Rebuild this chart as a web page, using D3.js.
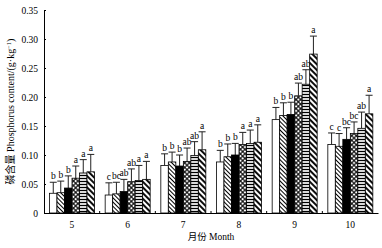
<!DOCTYPE html>
<html>
<head>
<meta charset="utf-8">
<script src="https://cdn.jsdelivr.net/npm/d3@7"></script>
<style>
  body { margin: 0; background: #fff; }
  text { font-family: "Liberation Serif", "Times New Roman", serif; fill: #000; }
</style>
</head>
<body>
<div id="chart"></div>
<script>
// months on the x axis
var months = ["5", "6", "7", "8", "9", "10"];
// six treatments per month (g/kg)
var s1 = [0.034, 0.031, 0.082, 0.088, 0.161, 0.118];
var s2 = [0.035, 0.033, 0.088, 0.097, 0.168, 0.115];
var s3 = [0.043, 0.037, 0.081, 0.100, 0.170, 0.127];
var s4 = [0.060, 0.054, 0.089, 0.118, 0.202, 0.137];
var s5 = [0.069, 0.056, 0.099, 0.120, 0.222, 0.146];
var s6 = [0.071, 0.058, 0.109, 0.122, 0.274, 0.171];
// error bar tops
var e1 = [0.053, 0.052, 0.102, 0.108, 0.182, 0.138];
var e2 = [0.055, 0.053, 0.105, 0.119, 0.190, 0.137];
var e3 = [0.064, 0.058, 0.100, 0.120, 0.191, 0.147];
var e4 = [0.081, 0.076, 0.112, 0.139, 0.224, 0.157];
var e5 = [0.092, 0.082, 0.123, 0.143, 0.247, 0.174];
var e6 = [0.101, 0.089, 0.140, 0.152, 0.305, 0.203];
// significance letters
var l1 = ["b", "c",  "b",  "b", "b",  "c"];
var l2 = ["b", "bc", "b",  "b", "b",  "c"];
var l3 = ["b", "ab", "b",  "b", "b",  "bc"];
var l4 = ["a", "ab", "ab", "a", "ab", "bc"];
var l5 = ["a", "a",  "ab", "a", "ab", "ab"];
var l6 = ["a", "a",  "a",  "a", "a",  "a"];
var yTicks = [0, 0.05, 0.10, 0.15, 0.20, 0.25, 0.30, 0.35];

var series = [s1, s2, s3, s4, s5, s6];
var errs = [e1, e2, e3, e4, e5, e6];
var letters = [l1, l2, l3, l4, l5, l6];
var fills = ["#fff", "url(#diagThin)", "#000", "url(#cross)", "url(#horiz)", "url(#diagThick)"];

var W = 382, H = 248;
var margin = {left: 44, right: 378, top: 10, bottom: 213};

var svg = d3.select("#chart").append("svg")
  .attr("width", W)
  .attr("height", H);

var defs = svg.append("defs");
function linePattern(id, size, sw, angle) {
  var p = defs.append("pattern")
    .attr("id", id)
    .attr("patternUnits", "userSpaceOnUse")
    .attr("width", size).attr("height", size)
    .attr("patternTransform", "rotate(" + angle + ")");
  p.append("rect").attr("width", size).attr("height", size).attr("fill", "#fff");
  p.append("line")
    .attr("x1", 0).attr("x2", size)
    .attr("y1", size / 2).attr("y2", size / 2)
    .attr("stroke", "#000").attr("stroke-width", sw);
  return p;
}
linePattern("diagThin", 3, 1, 45);
linePattern("horiz", 3, 1.3, 0);
linePattern("diagThick", 4, 1.9, 45);
var cp = linePattern("cross", 3.2, 1.1, 45);
cp.append("line")
  .attr("x1", 1.6).attr("x2", 1.6)
  .attr("y1", 0).attr("y2", 3.2)
  .attr("stroke", "#000").attr("stroke-width", 1.1);

var x0 = d3.scaleBand()
  .domain(months)
  .range([margin.left, margin.right])
  .padding(0);

var x1 = d3.scaleBand()
  .domain(d3.range(6))
  .range([5.5, 50.5])
  .padding(0);

var y = d3.scaleLinear()
  .domain([0, 0.35])
  .range([margin.bottom, margin.top]);

// y axis
var yAxis = svg.append("g")
  .attr("transform", "translate(" + margin.left + ",0)")
  .call(d3.axisLeft(y)
    .tickValues(yTicks)
    .tickSizeInner(-2)
    .tickSizeOuter(0)
    .tickPadding(6)
    .tickFormat(function(d) { return d === 0 ? "0" : d.toFixed(2); }));
yAxis.select(".domain").attr("stroke", "#000");
yAxis.selectAll("text").style("font-size", "9.5px").attr("fill", "#000");

// x axis
var xAxis = svg.append("g")
  .attr("transform", "translate(0," + margin.bottom + ")")
  .call(d3.axisBottom(x0).tickSize(0).tickPadding(8));
xAxis.select(".domain").attr("stroke", "#000");
xAxis.selectAll("text").style("font-size", "9.5px").attr("fill", "#000");
xAxis.selectAll(".sep")
  .data(months.slice(1))
  .enter().append("line")
  .attr("x1", function(d) { return x0(d); })
  .attr("x2", function(d) { return x0(d); })
  .attr("y1", 0).attr("y2", -2)
  .attr("stroke", "#000");

// bars
var groups = svg.selectAll(".grp")
  .data(months)
  .enter().append("g")
  .attr("transform", function(d) { return "translate(" + x0(d) + ",0)"; });

groups.each(function(m, mi) {
  var g = d3.select(this);
  for (var k = 0; k < 6; k++) {
    var bx = x1(k), bw = x1.bandwidth();
    var v = series[k][mi], ev = errs[k][mi];
    var cx = bx + bw / 2;
    g.append("line")
      .attr("x1", cx).attr("x2", cx)
      .attr("y1", y(v)).attr("y2", y(ev))
      .attr("stroke", "#222").attr("stroke-width", 1);
    g.append("line")
      .attr("x1", cx - 3.5).attr("x2", cx + 3.5)
      .attr("y1", y(ev)).attr("y2", y(ev))
      .attr("stroke", "#222").attr("stroke-width", 1);
    g.append("rect")
      .attr("x", bx)
      .attr("y", y(v))
      .attr("width", bw)
      .attr("height", y(0) - y(v))
      .attr("fill", fills[k])
      .attr("stroke", "#000")
      .attr("stroke-width", 0.8);
    g.append("text")
      .attr("x", cx)
      .attr("y", y(ev) - 3)
      .attr("text-anchor", "middle")
      .attr("fill", "#000")
      .style("font-size", "9.5px")
      .text(letters[k][mi]);
  }
});

// axis titles
svg.append("text")
  .attr("x", (margin.left + margin.right) / 2)
  .attr("y", 240)
  .attr("text-anchor", "middle")
  .style("font-size", "9.5px")
  .html('<tspan style="font-family:\'Noto Sans CJK SC\'">月份</tspan> Month');

svg.append("text")
  .attr("transform", "translate(14," + ((margin.top + margin.bottom) / 2) + ") rotate(-90)")
  .attr("text-anchor", "middle")
  .style("font-size", "10px")
  .html('<tspan style="font-family:\'Noto Sans CJK SC\'">磷含量</tspan> Phosphorus content/(g·kg<tspan dy="-3" style="font-size:6.5px">−1</tspan><tspan dy="3">)</tspan>');
</script>
</body>
</html>
